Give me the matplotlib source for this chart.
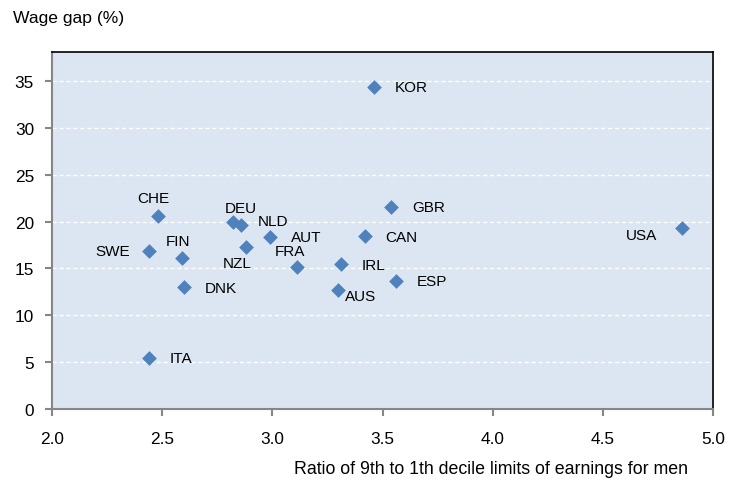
import matplotlib
matplotlib.use("Agg")
import matplotlib.pyplot as plt

plt.rcParams['font.family'] = ['Liberation Sans', 'DejaVu Sans']

countries = ["KOR", "USA", "GBR", "CAN", "IRL", "ESP", "AUS", "FRA", "AUT",
             "NLD", "DEU", "NZL", "CHE", "SWE", "FIN", "DNK", "ITA"]
ratio = [3.46, 4.86, 3.54, 3.42, 3.31, 3.56, 3.30, 3.11, 2.99,
         2.86, 2.82, 2.88, 2.48, 2.44, 2.59, 2.60, 2.44]
wage_gap = [34.4, 19.3, 21.6, 18.5, 15.5, 13.6, 12.7, 15.1, 18.4,
            19.6, 20.0, 17.3, 20.6, 16.8, 16.1, 13.0, 5.4]

# label offsets in points (dx, dy, ha)
offsets = {
    "KOR": (15, 0, "left"), "USA": (-18, -5, "right"), "GBR": (15, 0, "left"),
    "CAN": (15, -1, "left"), "IRL": (15, -1, "left"), "ESP": (15, 0, "left"),
    "AUS": (5, -4.5, "left"), "FRA": (-5, 12, "center"), "AUT": (15, 0, "left"),
    "NLD": (12, 3, "left"), "DEU": (6, 10, "center"), "NZL": (-6, -12, "center"),
    "CHE": (-3, 13, "center"), "SWE": (-14, 0, "right"), "FIN": (-3, 12, "center"),
    "DNK": (15, -1, "left"), "ITA": (15, 0, "left"),
}

fig = plt.figure(figsize=(7.3, 4.85), dpi=100)
ax = fig.add_axes([52/730, 1-409.6/485, (713-52)/730, (409.6-53.3)/485])
ax.set_facecolor("#DCE6F2")

ax.scatter(ratio, wage_gap, marker="D", s=7.5**2, color="#4F81BD", zorder=3, linewidths=0)
for c, x, y in zip(countries, ratio, wage_gap):
    dx, dy, ha = offsets[c]
    ax.annotate(c, (x, y), xytext=(dx, dy), textcoords="offset points",
                ha=ha, va="center", fontsize=11, color="#000000")

ax.set_xlim(2.0, 5.0)
ax.set_ylim(0, 38.1)
ax.set_xticks([2.0, 2.5, 3.0, 3.5, 4.0, 4.5, 5.0])
ax.set_xticklabels(["2.0", "2.5", "3.0", "3.5", "4.0", "4.5", "5.0"])
ax.set_yticks([0, 5, 10, 15, 20, 25, 30, 35])

for y in [5, 10, 15, 20, 25, 30, 35]:
    ax.axhline(y, color="white", lw=1, ls=(0, (3, 2)), zorder=1)

for s in ["left", "bottom"]:
    ax.spines[s].set_color("#868686")
    ax.spines[s].set_linewidth(1.5)
for s in ["top", "right"]:
    ax.spines[s].set_color("black")
    ax.spines[s].set_linewidth(1.2)

ax.tick_params(axis="both", direction="out", length=5, width=1.5, color="#868686",
               labelsize=12.4, labelcolor="black")
ax.tick_params(axis="x", pad=11)
ax.tick_params(axis="y", pad=8)

fig.text(13/730, 1-18/485, "Wage gap (%)", ha="left", va="center", fontsize=12.6)
fig.text(688/730, 1-470/485, "Ratio of 9th to 1th decile limits of earnings for men",
         ha="right", va="center", fontsize=12.8)

fig.savefig("out.png", dpi=100)
